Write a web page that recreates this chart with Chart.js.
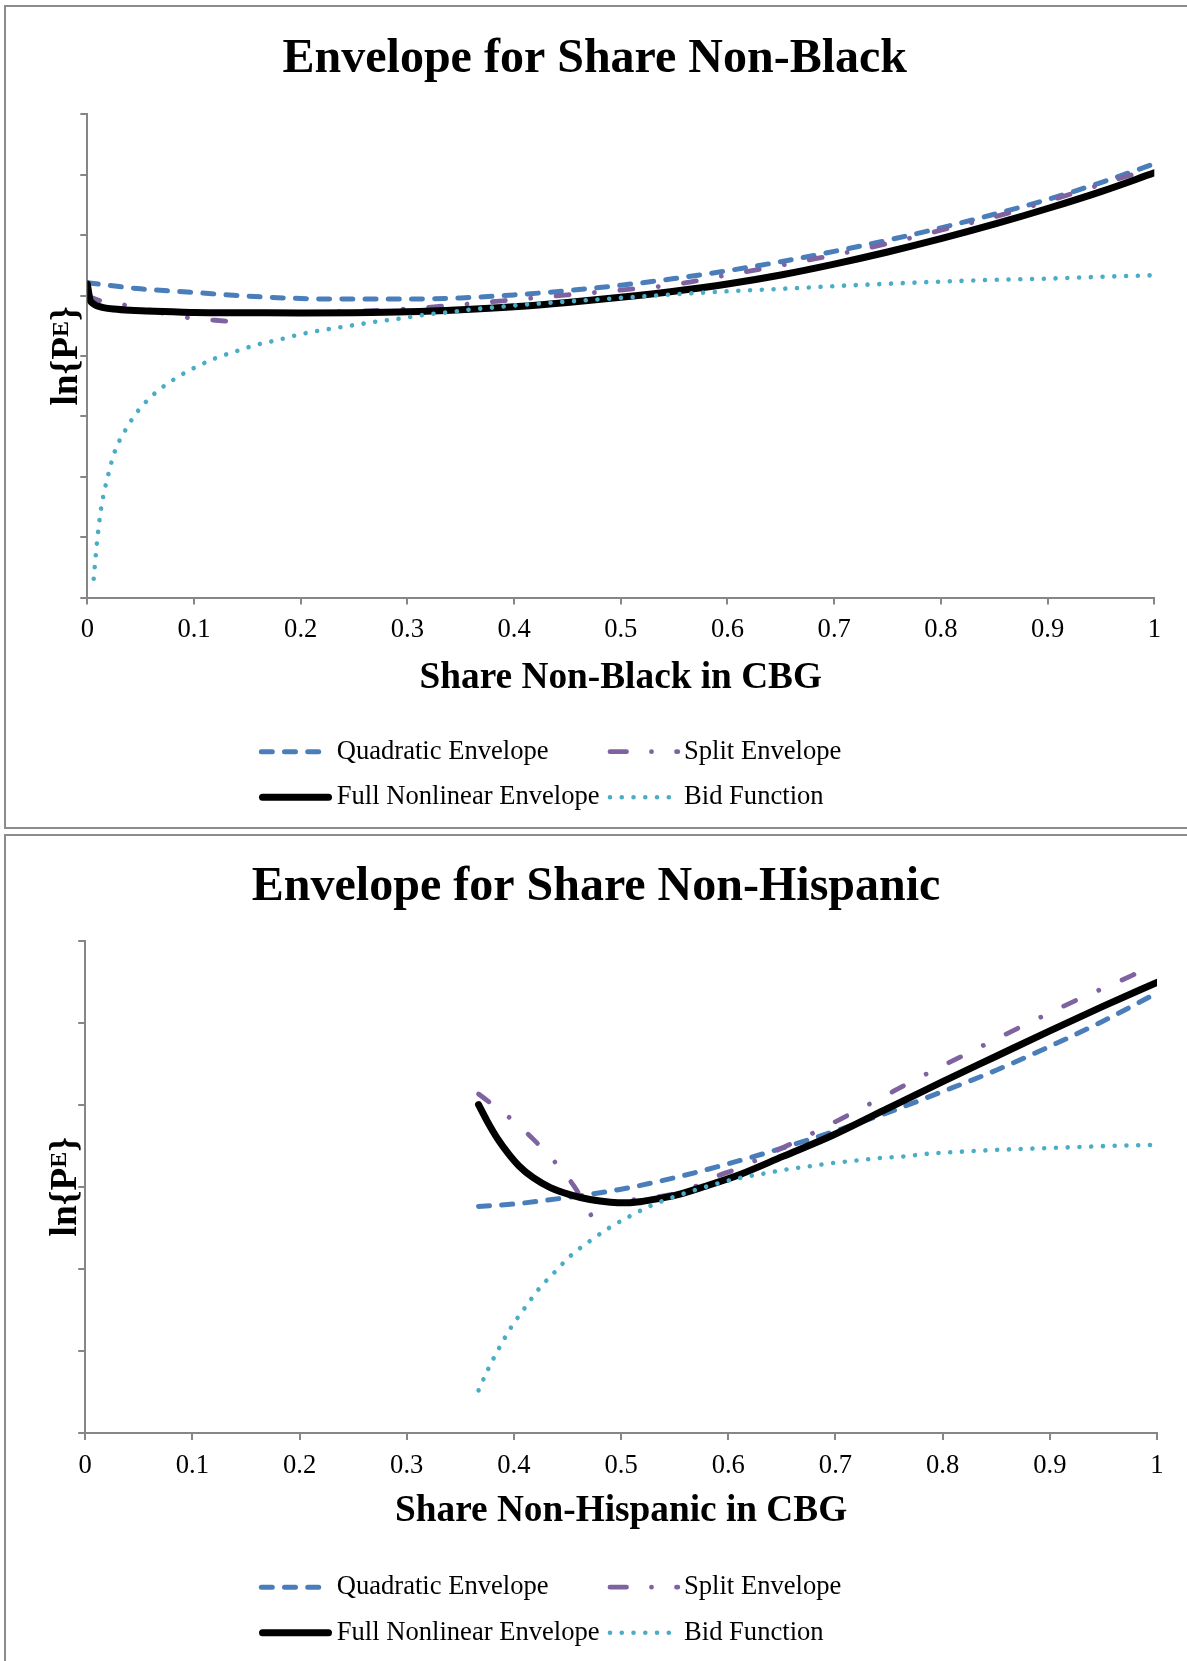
<!DOCTYPE html>
<html>
<head>
<meta charset="utf-8">
<title>Envelope for Share Non-Black / Non-Hispanic</title>
<script src="https://cdn.jsdelivr.net/npm/chart.js@4.4.1/dist/chart.umd.min.js"></script>
<style>
  html, body { margin: 0; padding: 0; background: #fff; }
  body { width: 1187px; height: 1661px; position: relative; overflow: hidden; }
  canvas { position: absolute; left: 0; }
  #chartA { top: 0; }
  #chartB { top: 830px; }
  .frame { position: absolute; box-sizing: border-box; border: 2px solid #8c8c8c; pointer-events: none; }
  #frameA { left: 4px; top: 5px; width: 1300px; height: 824px; }
  #frameB { left: 4px; top: 834px; width: 1300px; height: 900px; }
</style>
</head>
<body>
<canvas id="chartA" width="1187" height="830"></canvas>
<canvas id="chartB" width="1187" height="831"></canvas>
<div class="frame" id="frameA"></div>
<div class="frame" id="frameB"></div>
<script>
// ---------- shared axis ticks ----------
const xTickValues = [0, 0.1, 0.2, 0.3, 0.4, 0.5, 0.6, 0.7, 0.8, 0.9, 1];
const xTickLabels = ['0', '0.1', '0.2', '0.3', '0.4', '0.5', '0.6', '0.7', '0.8', '0.9', '1'];
const nbYTicks = [0, 1, 2, 3, 4, 5, 6, 7, 8];
const nhYTicks = [0, 1, 2, 3, 4, 5, 6];

const seriesLabels = ['Quadratic Envelope', 'Split Envelope', 'Full Nonlinear Envelope', 'Bid Function'];

// ---------- Share Non-Black ----------
const nbQuadX = [0, 0.05, 0.1, 0.15, 0.2, 0.25, 0.3, 0.35, 0.4, 0.45, 0.5, 0.55, 0.6, 0.65, 0.7, 0.75, 0.8, 0.85, 0.9, 0.95, 1];
const nbQuadY = [5.21, 5.11, 5.05, 4.99, 4.95, 4.94, 4.94, 4.96, 5.01, 5.08, 5.17, 5.28, 5.41, 5.56, 5.73, 5.915, 6.12, 6.345, 6.59, 6.87, 7.18];

const nbSplitX = [0, 0.015, 0.043, 0.076, 0.1, 0.12, 0.14, 0.14, 0.14, 0.2, 0.25, 0.3, 0.35, 0.4, 0.45, 0.5, 0.55, 0.6, 0.65, 0.7, 0.75, 0.8, 0.85, 0.9, 0.95, 0.99];
const nbSplitY = [4.99, 4.90, 4.82, 4.69, 4.62, 4.59, 4.56, null, 4.72, 4.72, 4.74, 4.78, 4.85, 4.93, 5.01, 5.09, 5.18, 5.34, 5.50, 5.67, 5.86, 6.08, 6.30, 6.56, 6.84, 7.06];

const nbFullX = [0, 0.001, 0.0025, 0.005, 0.009, 0.015, 0.025, 0.04, 0.055, 0.08, 0.1, 0.15, 0.2, 0.25, 0.3, 0.35, 0.4, 0.45, 0.5, 0.55, 0.6, 0.65, 0.7, 0.75, 0.8, 0.85, 0.9, 0.95, 1];
const nbFullY = [5.19, 5.08, 4.93, 4.87, 4.83, 4.80, 4.775, 4.755, 4.745, 4.73, 4.72, 4.715, 4.71, 4.715, 4.73, 4.765, 4.815, 4.885, 4.97, 5.07, 5.19, 5.34, 5.52, 5.72, 5.94, 6.18, 6.44, 6.72, 7.03];

const nbBidX = [0.006, 0.009, 0.013, 0.02, 0.026, 0.036, 0.048, 0.064, 0.082, 0.1, 0.12, 0.14, 0.16, 0.18, 0.2, 0.23, 0.25, 0.27, 0.29, 0.32, 0.34, 0.36, 0.38, 0.4, 0.43, 0.45, 0.5, 0.55, 0.6, 0.65, 0.7, 0.75, 0.8, 0.85, 0.9, 0.95, 1];
const nbBidY = [0.31, 0.90, 1.48, 2.06, 2.43, 2.78, 3.10, 3.39, 3.62, 3.80, 3.96, 4.08, 4.19, 4.27, 4.36, 4.455, 4.51, 4.565, 4.61, 4.69, 4.725, 4.77, 4.80, 4.835, 4.875, 4.90, 4.96, 5.02, 5.07, 5.11, 5.155, 5.195, 5.23, 5.26, 5.28, 5.31, 5.335];

// ---------- Share Non-Hispanic ----------
const nhQuadX = [0.367, 0.4, 0.45, 0.5, 0.55, 0.6, 0.65, 0.7, 0.75, 0.8, 0.85, 0.9, 0.95, 1];
const nhQuadY = [2.76, 2.79, 2.87, 2.97, 3.11, 3.28, 3.47, 3.68, 3.91, 4.16, 4.42, 4.71, 5.02, 5.36];

const nhSplitX = [0.367, 0.397, 0.418, 0.439, 0.457, 0.473, 0.473, 0.476, 0.5, 0.53, 0.56, 0.584, 0.612, 0.64, 0.666, 0.692, 0.719, 0.745, 0.771, 0.824, 0.878, 0.931, 0.959, 0.986];
const nhSplitY = [4.13, 3.83, 3.58, 3.29, 2.99, 2.63, null, 2.82, 2.83, 2.87, 2.95, 3.10, 3.24, 3.41, 3.57, 3.74, 3.92, 4.10, 4.28, 4.63, 4.98, 5.31, 5.47, 5.63];

const nhFullX = [0.367, 0.375, 0.385, 0.395, 0.405, 0.418, 0.434, 0.452, 0.471, 0.49, 0.505, 0.52, 0.535, 0.552, 0.577, 0.611, 0.651, 0.698, 0.745, 0.8, 0.85, 0.9, 0.95, 1];
const nhFullY = [4.00, 3.80, 3.58, 3.40, 3.25, 3.11, 2.99, 2.905, 2.845, 2.812, 2.805, 2.822, 2.855, 2.90, 3.00, 3.15, 3.37, 3.63, 3.93, 4.28, 4.59, 4.90, 5.20, 5.49];

const nhBidX = [0.367, 0.376, 0.386, 0.397, 0.41, 0.423, 0.438, 0.453, 0.471, 0.489, 0.508, 0.528, 0.548, 0.569, 0.59, 0.612, 0.633, 0.654, 0.676, 0.698, 0.72, 0.741, 0.764, 0.785, 0.807, 0.851, 0.895, 0.939, 0.978, 1];
const nhBidY = [0.52, 0.78, 1.03, 1.28, 1.52, 1.75, 1.96, 2.16, 2.34, 2.50, 2.64, 2.77, 2.87, 2.96, 3.04, 3.11, 3.16, 3.21, 3.25, 3.29, 3.32, 3.35, 3.37, 3.40, 3.42, 3.45, 3.47, 3.49, 3.505, 3.51];

// ---------- styling ----------
const SERIF = '"Liberation Serif", "Times New Roman", serif';
const AXIS = '#868686';
const COLORS = { quad: '#4a7ebb', split: '#7f63a1', full: '#000000', bid: '#4bacc6' };
const DASH = { quad: [11, 12.2], split: [13, 25.5, 0.01, 25.5], bid: [0.01, 11.75] };

function pairs(xs, ys) {
  return xs.map((x, i) => ({ x: x, y: ys[i] }));
}

function series(label, xs, ys, style) {
  return Object.assign({
    label: label,
    data: pairs(xs, ys),
    pointRadius: 0,
    pointHoverRadius: 0,
    borderCapStyle: 'round',
    borderJoinStyle: 'round',
    cubicInterpolationMode: 'monotone',
    spanGaps: false,
    fill: false
  }, style);
}

// Rotated "ln{P^E}" label beside the value axis
const lnLabel = {
  id: 'lnLabel',
  afterDraw(chart, _args, o) {
    const { ctx, chartArea } = chart;
    const big = `bold ${o.size}px ${SERIF}`;
    const small = `bold ${o.supSize}px ${SERIF}`;
    ctx.save();
    ctx.font = big;
    const w1 = ctx.measureText(o.base).width;
    const w3 = ctx.measureText(o.close).width;
    ctx.font = small;
    const w2 = ctx.measureText(o.sup).width;
    const total = w1 + w2 + w3;
    ctx.translate(o.x, (chartArea.top + chartArea.bottom) / 2);
    ctx.rotate(-Math.PI / 2);
    ctx.fillStyle = '#000';
    ctx.textAlign = 'left';
    ctx.textBaseline = 'alphabetic';
    const baseY = o.size * 0.33;
    let cx = -total / 2;
    ctx.font = big; ctx.fillText(o.base, cx, baseY); cx += w1;
    ctx.font = small; ctx.fillText(o.sup, cx, baseY - o.size * 0.25); cx += w2;
    ctx.font = big; ctx.fillText(o.close, cx, baseY);
    ctx.restore();
  }
};

// Two-column key: line sample plus series name
const seriesKey = {
  id: 'seriesKey',
  afterDraw(chart, _args, o) {
    const ctx = chart.ctx;
    o.items.forEach(it => {
      const ds = chart.data.datasets[it.index];
      ctx.save();
      ctx.strokeStyle = ds.borderColor;
      ctx.lineWidth = ds.borderWidth;
      ctx.lineCap = 'round';
      ctx.setLineDash(it.dash || ds.borderDash || []);
      ctx.beginPath();
      ctx.moveTo(it.x0, it.y);
      ctx.lineTo(it.x1, it.y);
      ctx.stroke();
      ctx.setLineDash([]);
      ctx.fillStyle = '#000';
      ctx.font = `26.6px ${SERIF}`;
      ctx.textAlign = 'left';
      ctx.textBaseline = 'middle';
      ctx.fillText(ds.label, it.tx, it.y);
      ctx.restore();
    });
  }
};

function keyItems(row1, row2) {
  return [
    { index: 0, x0: 261.3, x1: 320.7, tx: 336.7, y: row1 },
    { index: 1, x0: 610, x1: 677.8, tx: 684, y: row1, dash: [16.5, 25, 0.01, 25] },
    { index: 2, x0: 262.5, x1: 328.5, tx: 336.7, y: row2 },
    { index: 3, x0: 610, x1: 669, tx: 684, y: row2 }
  ];
}

function buildChart(id, p) {
  const datasets = [
    series(seriesLabels[0], p.quadX, p.quadY, { borderColor: COLORS.quad, borderWidth: 5, borderDash: DASH.quad, order: 3 }),
    series(seriesLabels[1], p.splitX, p.splitY, { borderColor: COLORS.split, borderWidth: 4.8, borderDash: DASH.split, order: 2 }),
    series(seriesLabels[2], p.fullX, p.fullY, { borderColor: COLORS.full, borderWidth: 7, borderDash: [], order: 1 }),
    series(seriesLabels[3], p.bidX, p.bidY, { borderColor: COLORS.bid, borderWidth: 4.6, borderDash: DASH.bid, order: 0 })
  ];
  const padding = { top: p.titleMid - 28.8, left: 40, right: 30, bottom: 130 };
  const titlePad = { top: 0, bottom: 30 };
  const options = {
    responsive: false,
    animation: false,
    events: [],
    layout: { padding: padding },
    plugins: {
      legend: { display: false },
      tooltip: { enabled: false },
      title: {
        display: true,
        text: p.title,
        color: '#000',
        font: { family: SERIF, size: 48, weight: 'bold', lineHeight: 1.2 },
        padding: titlePad
      },
      lnLabel: { x: p.labelX, size: 37.3, supSize: 24, base: 'ln{P', sup: 'E', close: '}' },
      seriesKey: { items: keyItems(p.keyRows[0], p.keyRows[1]) }
    },
    scales: {
      x: {
        type: 'linear',
        min: 0,
        max: 1,
        afterBuildTicks: s => { s.ticks = xTickValues.map(v => ({ value: v })); },
        ticks: {
          autoSkip: false,
          maxRotation: 0,
          padding: 10,
          color: '#000',
          font: { family: SERIF, size: 26.6 },
          callback: (v, i) => xTickLabels[i]
        },
        grid: { drawOnChartArea: false, drawTicks: true, tickLength: 7, color: AXIS, lineWidth: 2 },
        border: { color: AXIS, width: 2 },
        title: {
          display: true,
          text: p.xTitle,
          color: '#000',
          font: { family: SERIF, size: 37.3, weight: 'bold', lineHeight: 1.2 },
          padding: { top: p.xTitlePad, bottom: 0 }
        }
      },
      y: {
        type: 'linear',
        min: p.yTicks[0],
        max: p.yTicks[p.yTicks.length - 1],
        afterBuildTicks: s => { s.ticks = p.yTicks.map(v => ({ value: v })); },
        afterFit: s => { s.width = p.yBoxWidth; },
        ticks: { display: false },
        grid: { drawOnChartArea: false, drawTicks: true, tickLength: 7, color: AXIS, lineWidth: 2 },
        border: { color: AXIS, width: 2 }
      }
    }
  };
  const chart = new Chart(document.getElementById(id), {
    type: 'line',
    data: { datasets: datasets },
    options: options,
    plugins: [lnLabel, seriesKey]
  });
  // settle the plot area on its intended box
  for (let k = 0; k < 2; k++) {
    const a = chart.chartArea;
    padding.left += p.area.left - a.left;
    padding.right += a.right - p.area.right;
    padding.bottom += a.bottom - p.area.bottom;
    titlePad.bottom += p.area.top - a.top;
    chart.update('none');
  }
  return chart;
}

buildChart('chartA', {
  title: 'Envelope for Share Non-Black',
  xTitle: 'Share Non-Black in CBG',
  titleMid: 59.5,
  xTitlePad: -0.8,
  yBoxWidth: 52,
  labelX: 65,
  keyRows: [751.7, 797.2],
  yTicks: nbYTicks,
  area: { left: 87.3, right: 1154.3, top: 114.3, bottom: 597.5 },
  quadX: nbQuadX, quadY: nbQuadY,
  splitX: nbSplitX, splitY: nbSplitY,
  fullX: nbFullX, fullY: nbFullY,
  bidX: nbBidX, bidY: nbBidY
});

buildChart('chartB', {
  title: 'Envelope for Share Non-Hispanic',
  xTitle: 'Share Non-Hispanic in CBG',
  titleMid: 57.2,
  xTitlePad: -2.8,
  yBoxWidth: 50,
  labelX: 63.5,
  keyRows: [757.2, 802.7],
  yTicks: nhYTicks,
  area: { left: 85.2, right: 1157, top: 110.5, bottom: 603 },
  quadX: nhQuadX, quadY: nhQuadY,
  splitX: nhSplitX, splitY: nhSplitY,
  fullX: nhFullX, fullY: nhFullY,
  bidX: nhBidX, bidY: nhBidY
});
</script>
</body>
</html>
